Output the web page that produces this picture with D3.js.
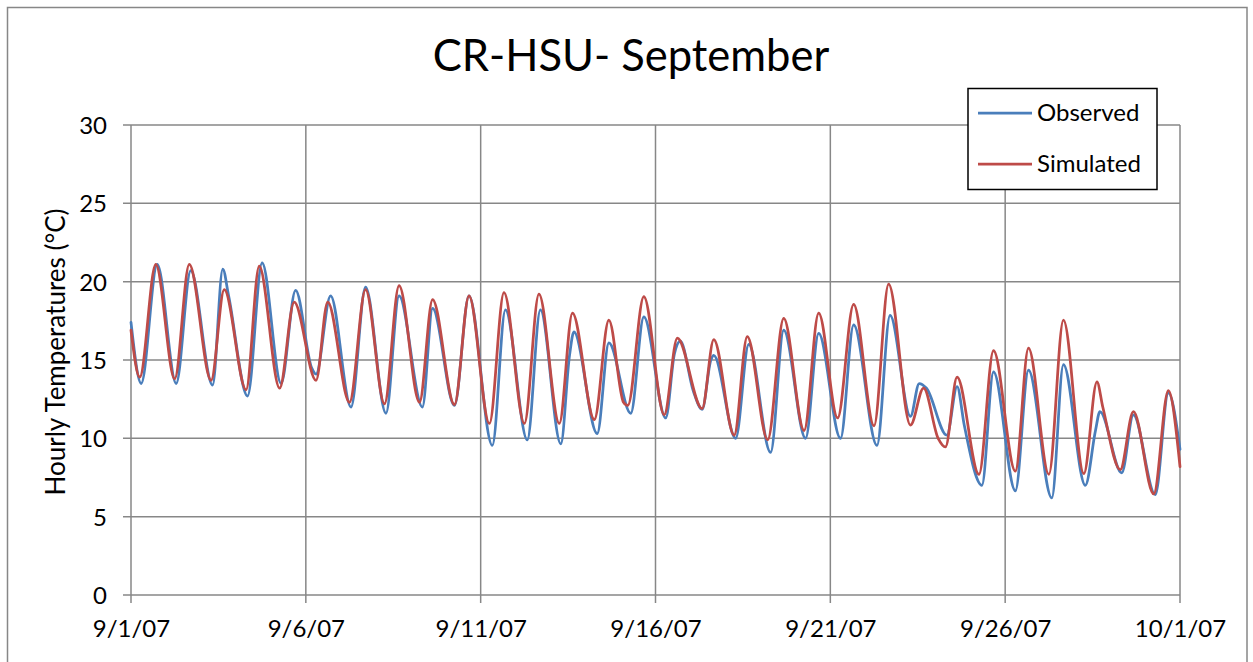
<!DOCTYPE html>
<html><head><meta charset="utf-8">
<script src="https://cdn.jsdelivr.net/npm/d3@7"></script>
<style>
html,body{margin:0;padding:0;background:#fff;}
svg{display:block;}
text{font-family:Lato,'Liberation Sans',sans-serif;fill:#000;}
</style>
</head><body>
<svg id="chart" width="1253" height="662"></svg>
<script>
// ---- data ----
const chartTitle = "CR-HSU- September";
const yAxisTitle = "Hourly Temperatures (°C)";
const seriesNames = ["Observed", "Simulated"];
const startDate = new Date(2007, 8, 1);
const endDate = new Date(2007, 9, 1);
const xTickDates = [new Date(2007,8,1), new Date(2007,8,6), new Date(2007,8,11), new Date(2007,8,16), new Date(2007,8,21), new Date(2007,8,26), new Date(2007,9,1)];
const yTickValues = [0, 5, 10, 15, 20, 25, 30];

// hours since 9/1/07 00:00
const observedHours = [0,7,18,31,41,56,63,67,80,90,103,113,124,127,137,151,161,175,184,200,207,222,232,248,257,272,281,295,301,304,320,328,343,352,367,373,377,386,392,398,400,415,424,439,448,463,472,487,496,512,521,535,541,546,560,567,572,584,592,607,616,632,640,655,662,665,680,688,703,712,720];
const observedTemps = [17.4,13.5,21.1,13.5,20.7,13.4,20.8,19.1,12.7,21.2,13.5,19.45,14.5,14.1,19.1,12.0,19.65,11.6,19.1,12.0,18.3,12.1,19.1,9.55,18.2,9.9,18.2,9.65,15.3,16.8,10.3,16.1,11.6,17.75,11.3,15.4,16.2,13.0,11.85,15.0,15.3,10.0,16.0,9.1,16.9,10.0,16.7,10.0,17.25,9.55,17.85,11.4,13.5,13.2,10.2,13.3,10.8,7.0,14.25,6.65,14.35,6.2,14.7,7.0,10.5,11.7,7.8,11.5,6.4,12.9,9.3];

const simulatedHours = [0,6,17,30,40,55,64,79,88,102,112,127,135,150,161,174,184,198,207,222,232,246,256,270,280,294,303,318,328,338,341,352,366,375,392,400,414,423,437,448,462,472,485,496,510,520,535,544,554,559,567,582,592,607,616,630,640,654,663,667,679,688,702,712,720];
const simulatedTemps = [16.9,13.9,21.1,13.8,21.1,13.7,19.5,13.1,21.0,13.2,18.7,13.7,18.7,12.3,19.5,12.2,19.75,12.3,18.85,12.15,19.1,10.95,19.3,10.95,19.2,10.95,18.0,11.2,17.55,12.3,12.1,19.05,11.5,16.4,11.9,16.3,10.2,16.5,9.9,17.65,10.5,18.0,11.3,18.55,10.8,19.85,10.85,13.2,10.0,9.45,13.9,7.7,15.6,7.9,15.75,7.7,17.55,7.75,13.6,12.0,8.0,11.7,6.45,13.05,8.2];

const seriesColors = ["#4A7EBB", "#BE4B48"];

// ---- drawing ----
const svg = d3.select("#chart");
const gridColor = "#878787";
const plot = {left: 131, right: 1180, top: 125, bottom: 595};

svg.append("rect").attr("x", 0).attr("y", 0).attr("width", 1253).attr("height", 662).attr("fill", "#fff");
svg.append("rect").attr("x", 7.5).attr("y", 7.5).attr("width", 1239.5).attr("height", 700)
  .attr("fill", "none").attr("stroke", gridColor).attr("stroke-width", 1.5);

const x = d3.scaleTime().domain([startDate, endDate]).range([plot.left, plot.right]);
const y = d3.scaleLinear().domain([0, 30]).range([plot.bottom, plot.top]);

// gridlines
svg.append("g").selectAll("line").data(yTickValues).join("line")
  .attr("x1", plot.left - 8).attr("x2", plot.right)
  .attr("y1", d => y(d)).attr("y2", d => y(d))
  .attr("stroke", gridColor).attr("stroke-width", 1.5);
svg.append("g").selectAll("line").data(xTickDates).join("line")
  .attr("x1", d => x(d)).attr("x2", d => x(d))
  .attr("y1", plot.top).attr("y2", plot.bottom + 8)
  .attr("stroke", gridColor).attr("stroke-width", 1.5);

// axes labels via d3 axes
const fmt = d3.timeFormat("%-m/%-d/%y");
const xAxis = d3.axisBottom(x).tickValues(xTickDates).tickFormat(fmt).tickSize(0).tickPadding(0);
const gx = svg.append("g").attr("transform", `translate(0,${plot.bottom})`).call(xAxis);
gx.select(".domain").remove();
gx.selectAll("text").attr("font-size", 24).attr("font-family", "Lato,'Liberation Sans',sans-serif")
  .attr("fill", "#000").attr("dy", null).attr("y", 42);

const yAxis = d3.axisLeft(y).tickValues(yTickValues).tickSize(0).tickPadding(0);
const gy = svg.append("g").attr("transform", `translate(${plot.left},0)`).call(yAxis);
gy.select(".domain").remove();
gy.selectAll("text").attr("font-size", 24).attr("font-family", "Lato,'Liberation Sans',sans-serif")
  .attr("fill", "#000").attr("x", -24).attr("dy", "0.35em");

// series
const line = d3.line().curve(d3.curveMonotoneX)
  .x(d => x(d3.timeHour.offset(startDate, d[0]))).y(d => y(d[1]));
const obs = observedHours.map((h, i) => [h, observedTemps[i]]);
const sim = simulatedHours.map((h, i) => [h, simulatedTemps[i]]);
[obs, sim].forEach((data, i) => {
  svg.append("path").datum(data).attr("d", line).attr("fill", "none")
    .attr("stroke", seriesColors[i]).attr("stroke-width", 2.75)
    .attr("stroke-linejoin", "round").attr("stroke-linecap", "round");
});

// title
svg.append("text").attr("x", 631).attr("y", 71).attr("text-anchor", "middle")
  .attr("font-size", 43.5).text(chartTitle);

// y axis title
svg.append("text").attr("transform", "translate(65,352) rotate(-90)")
  .attr("text-anchor", "middle").attr("font-size", 26).text(yAxisTitle);

// legend
const lg = svg.append("g");
lg.append("rect").attr("x", 968).attr("y", 88.5).attr("width", 189).attr("height", 101)
  .attr("fill", "#fff").attr("stroke", "#000").attr("stroke-width", 1.5);
seriesNames.forEach((name, i) => {
  const ly = 113 + i * 51;
  lg.append("line").attr("x1", 978).attr("x2", 1032).attr("y1", ly).attr("y2", ly)
    .attr("stroke", seriesColors[i]).attr("stroke-width", 2.75);
  lg.append("text").attr("x", 1037).attr("y", ly).attr("dy", "0.35em")
    .attr("font-size", 24).text(name);
});
</script>
</body></html>
